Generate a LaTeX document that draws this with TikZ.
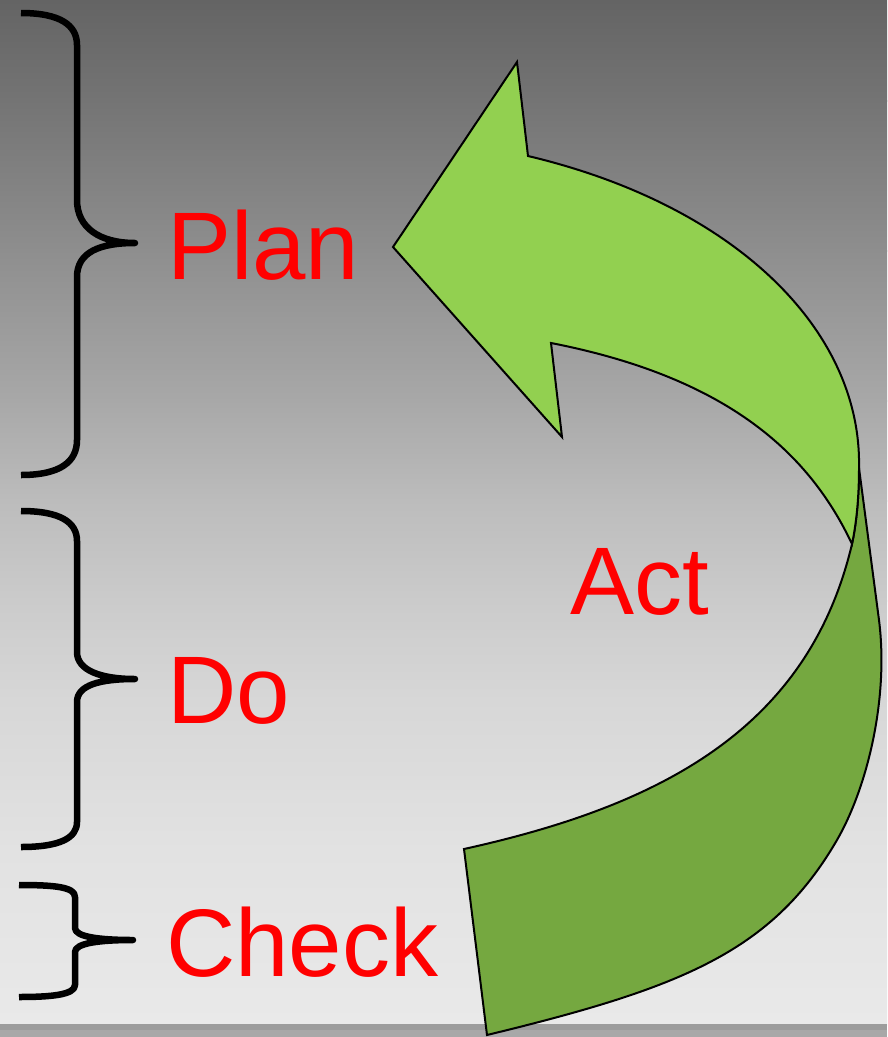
\documentclass[tikz,border=0pt]{standalone}
\usepackage{fontspec}
\setmainfont{Liberation Sans}
\definecolor{leafgreen}{RGB}{146,208,80}
\definecolor{darkleaf}{RGB}{117,168,64}
\definecolor{stripA}{RGB}{156,156,156}
\definecolor{stripB}{RGB}{168,168,168}
\tikzstyle{word}=[text=red,inner sep=0pt,anchor=base west,font=\fontsize{96pt}{110pt}\selectfont]
\tikzstyle{curly}=[line width=6.5pt,line join=round]
\tikzstyle{ribbon}=[draw=black,line width=2pt]

\begin{document}
\begin{tikzpicture}[x=1pt,y=-1pt]
\useasboundingbox (0,0) rectangle (887,1037);
\foreach \ya/\ca/\yb/\cb in {0/100/100/116,100/116/250/142,250/142/400/168,400/168/500/188,500/188/600/203,600/203/700/215,700/215/850/226,850/226/1024/233}
	\shade[top color={rgb,255:red,\ca;green,\ca;blue,\ca},bottom color={rgb,255:red,\cb;green,\cb;blue,\cb}] (0,\ya) rectangle (887,\yb+1);
\fill[stripA] (0,1024) rectangle (887,1030);
\fill[stripB] (0,1030) rectangle (887,1037);

\draw[curly] (21,13) .. controls (60,13) and (77,25) .. (77,45) -- (77,200)
		.. controls (77,228) and (100,243) .. (135,243) .. controls (100,243) and (77,252) .. (77,277)
		-- (77,440) .. controls (77,462) and (60,475) .. (21,475)
	(21,511) .. controls (60,511) and (77,522) .. (77,541) -- (77,652)
		.. controls (77,670) and (100,679) .. (135,679) .. controls (100,679) and (77,685) .. (77,702)
		-- (77,822) .. controls (77,838) and (60,847) .. (21,847)
	(19,885) .. controls (55,885) and (75,887) .. (75,897) -- (75,928)
		.. controls (75,937) and (100,940) .. (133,940) .. controls (100,940) and (75,943) .. (75,952)
		-- (75,985) .. controls (75,995) and (50,997) .. (19,997);

\node[word] (plan) at (167,279) {Plan};
\node[word] (do) at (167,723) {Do};
\node[word] (check) at (166,976) {Check};
\node[word] (act) at (570,614) {Act};

\coordinate (top) at (859,468);
\coordinate (twist) at (852,544);
\filldraw[ribbon,fill=darkleaf] (top) -- (879,620) .. controls (889,699) and (867,788) .. (837,840)
	.. controls (772,952) and (681,988) .. (487,1035)
	-- (464,849) .. controls (659,806) and (808,730) .. (twist) .. controls (856,525) and (859,500) .. (top) -- cycle;
\filldraw[ribbon,fill=leafgreen] (528,156) .. controls (735,205) and (862,330) .. (top)
	.. controls (859,500) and (856,525) .. (twist) .. controls (810,455) and (730,378) .. (551,343)
	-- (562,437) -- (393,247) -- (517,62) -- cycle;
\end{tikzpicture}
\end{document}
